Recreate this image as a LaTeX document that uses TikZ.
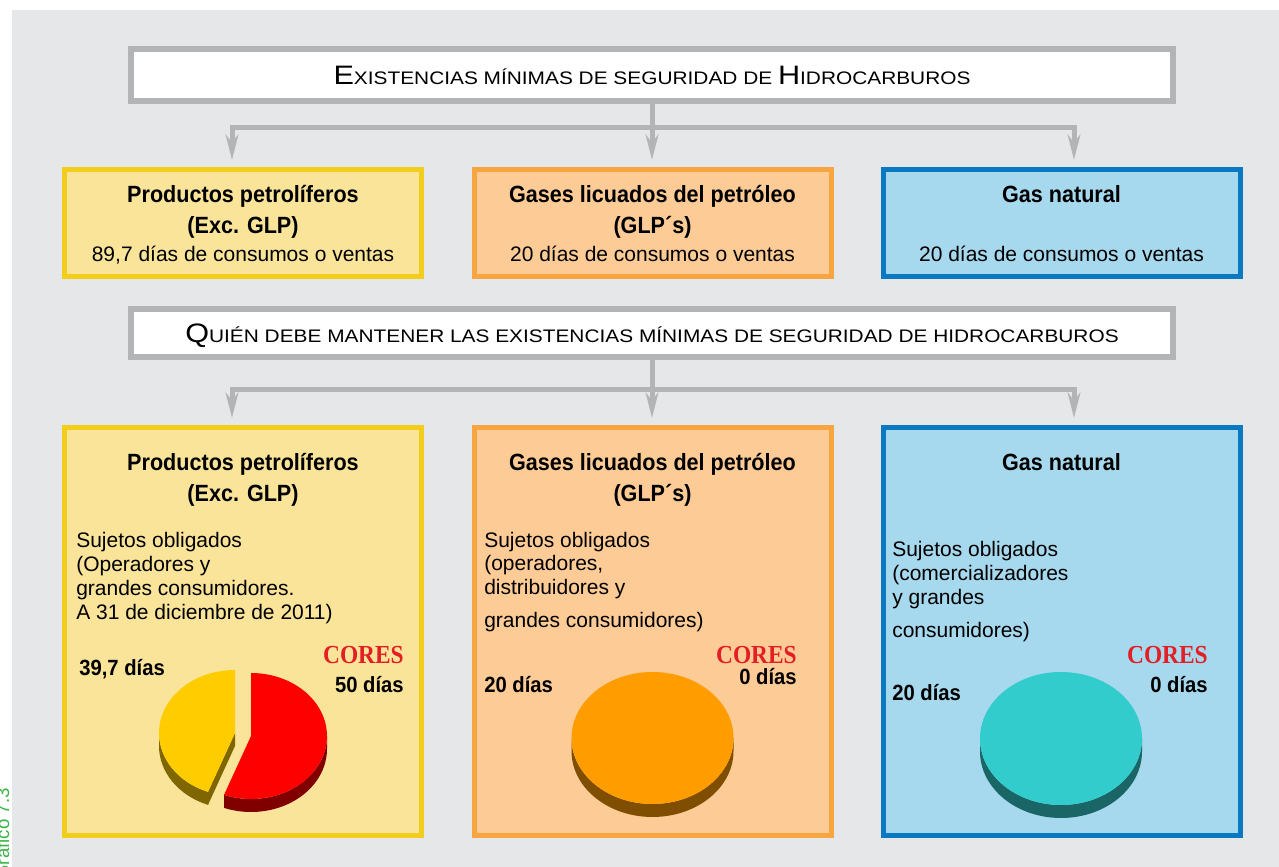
\documentclass[tikz,border=0pt]{standalone}
\usepackage{fontspec}
\setmainfont{Liberation Sans}
\newfontfamily\bcond{Liberation Sans}[FakeStretch=0.92]
\newfontfamily\wide{Liberation Sans}[FakeStretch=1.15]
\newfontfamily\coresf{Liberation Serif}[FakeStretch=0.9]
\usetikzlibrary{arrows.meta}
\definecolor{bg}{HTML}{E6E7E8}
\definecolor{tgray}{HTML}{B3B4B6}
\definecolor{agray}{HTML}{B3B4B6}
\definecolor{yfill}{HTML}{F9E499}
\definecolor{ybord}{HTML}{F2CD1B}
\definecolor{ofill}{HTML}{FDCB95}
\definecolor{obord}{HTML}{F7A540}
\definecolor{bfill}{HTML}{A6D9EE}
\definecolor{bbord}{HTML}{0B79C2}
\definecolor{ytop}{HTML}{FFCC00}
\definecolor{yside}{HTML}{806600}
\definecolor{rtop}{HTML}{FF0000}
\definecolor{rside}{HTML}{800000}
\definecolor{otop}{HTML}{FF9C00}
\definecolor{oside}{HTML}{7F4E00}
\definecolor{ctop}{HTML}{33CCCC}
\definecolor{cside}{HTML}{1A6666}
\definecolor{coresred}{HTML}{E31E24}
\definecolor{grn}{HTML}{3DB54A}
\newcommand\bigc[1]{{\fontsize{20}{22}\selectfont #1}}
\newcommand\smc[1]{{\fontsize{13.6}{15}\selectfont #1}}
\tikzset{
  titlebox/.style={draw=tgray, line width=4.5pt, fill=white, minimum width=1042*0.75pt, inner sep=0pt, outer sep=2.25pt},
  cbox/.style={line width=3.75pt, minimum width=357*0.75pt, inner sep=0pt, outer sep=1.875pt},
  ybox/.style={cbox, draw=ybord, fill=yfill},
  obox/.style={cbox, draw=obord, fill=ofill},
  bbox/.style={cbox, draw=bbord, fill=bfill},
  conn/.style={draw=agray, line width=3.75pt},
  arr/.style={conn, -{Stealth[length=19pt,width=9.5pt,inset=6pt]}, shorten >=5.25pt},
  bt/.style={font=\bcond\bfseries\fontsize{17.6}{20}\selectfont, inner sep=0pt, anchor=base},
  rt/.style={font=\fontsize{15.75}{18}\selectfont, inner sep=0pt, anchor=base},
  lt/.style={font=\fontsize{15.75}{18}\selectfont, inner sep=0pt, anchor=base west},
  bd/.style={font=\bcond\bfseries\fontsize{16.5}{18}\selectfont, inner sep=0pt},
  cores/.style={font=\coresf\bfseries\fontsize{19.5}{20}\selectfont, text=coresred, inner sep=0pt, anchor=base east},
  ttxt/.style={font=\wide, inner sep=0pt, anchor=base},
}
\begin{document}
\begin{tikzpicture}[x=0.75pt,y=0.75pt]
\useasboundingbox (0,0) rectangle (1279,867);
\begin{scope}
\clip (0,0) rectangle (1279,867);
\fill[white] (0,0) rectangle (1279,867);
\fill[bg] (12,0) rectangle (1279,857);
\node[rotate=90, anchor=base east, text=grn, font=\fontsize{14}{15}\selectfont, inner sep=0pt] (gr) at (9,79) {Gráfico 7.3};
\end{scope}

% titles
\node[titlebox, minimum height=52*0.75pt] (t1) at (652,792) {};
\node[ttxt] (t1x) at (652,782) {\bigc{E}\smc{XISTENCIAS MÍNIMAS DE SEGURIDAD DE }\bigc{H}\smc{IDROCARBUROS}};
\node[titlebox, minimum height=48*0.75pt] (t2) at (652,534) {};
\node[ttxt] (t2x) at (652,524) {\bigc{Q}\smc{UIÉN DEBE MANTENER LAS EXISTENCIAS MÍNIMAS DE SEGURIDAD DE HIDROCARBUROS}};

% row 1 boxes
\node[ybox, minimum height=107*0.75pt] (a1) at (243,644) {};
\node[obox, minimum height=107*0.75pt] (a2) at (652.5,644) {};
\node[bbox, minimum height=107*0.75pt] (a3) at (1061.5,644) {};
% row 2 boxes
\node[ybox, minimum height=408*0.75pt] (b1) at (243,235.5) {};
\node[obox, minimum height=408*0.75pt] (b2) at (652.5,235.5) {};
\node[bbox, minimum height=408*0.75pt] (b3) at (1061.5,235.5) {};

% connectors row 1
\coordinate (j1) at (652,739);
\coordinate (j1l) at (232,739);
\coordinate (j1r) at (1074,739);
\draw[conn] (t1.south) -- (j1);
\draw[arr] (j1) -- (j1l) -- (j1l |- a1.north);
\draw[arr] (j1) -- (j1r) -- (j1r |- a3.north);
\draw[arr] (j1) -- (j1 |- a2.north);
% connectors row 2
\coordinate (j2) at (652,477);
\coordinate (j2l) at (232,477);
\coordinate (j2r) at (1074,477);
\draw[conn] (t2.south) -- (j2);
\draw[arr] (j2) -- (j2l) -- (j2l |- b1.north);
\draw[arr] (j2) -- (j2r) -- (j2r |- b3.north);
\draw[arr] (j2) -- (j2 |- b2.north);

% row 1 texts
\node[bt] (a1t1) at (243,664) {Productos petrolíferos};
\node[bt] (a1t2) at (243,633) {(Exc. GLP)};
\node[rt] (a1t3) at (243,605) {89,7 días de consumos o ventas};
\node[bt] (a2t1) at (652.5,664) {Gases licuados del petróleo};
\node[bt] (a2t2) at (652.5,633) {(GLP´s)};
\node[rt] (a2t3) at (652.5,605) {20 días de consumos o ventas};
\node[bt] (a3t1) at (1061.5,664) {Gas natural};
\node[rt] (a3t3) at (1061.5,605) {20 días de consumos o ventas};

% row 2 texts
\node[bt] (b1t1) at (243,396) {Productos petrolíferos};
\node[bt] (b1t2) at (243,365) {(Exc. GLP)};
\node[lt] (b1l1) at (76,319) {Sujetos obligados};
\node[lt] (b1l2) at (76,295) {(Operadores y};
\node[lt] (b1l3) at (76,271) {grandes consumidores.};
\node[lt] (b1l4) at (76,247) {A 31 de diciembre de 2011)};

\node[bt] (b2t1) at (652.5,396) {Gases licuados del petróleo};
\node[bt] (b2t2) at (652.5,365) {(GLP´s)};
\node[lt] (b2l1) at (484,319) {Sujetos obligados};
\node[lt] (b2l2) at (484,296) {(operadores,};
\node[lt] (b2l3) at (484,272) {distribuidores y};
\node[lt] (b2l4) at (484,239) {grandes consumidores)};

\node[bt] (b3t1) at (1061.5,396) {Gas natural};
\node[lt] (b3l1) at (892,310) {Sujetos obligados};
\node[lt] (b3l2) at (892,286) {(comercializadores};
\node[lt] (b3l3) at (892,262) {y grandes};
\node[lt] (b3l4) at (892,229) {consumidores)};

% pie labels
\node[bd, anchor=base west] (p1a) at (79,191) {39,7 días};
\node[cores] (p1c) at (404,203) {CORES};
\node[bd, anchor=base east] (p1b) at (404,174) {50 días};
\node[bd, anchor=base west] (p2a) at (484,174) {20 días};
\node[cores] (p2c) at (797,203) {CORES};
\node[bd, anchor=base east] (p2b) at (797,182) {0 días};
\node[bd, anchor=base west] (p3a) at (892,166) {20 días};
\node[cores] (p3c) at (1208,203) {CORES};
\node[bd, anchor=base east] (p3b) at (1208,174) {0 días};

% pie 1: yellow slice
\begin{scope}[shift={(235,134)}]
  \fill[yside] (180:76 and 63) arc[start angle=180,end angle=249.2,x radius=76,y radius=63] -- ++(0,-13) arc[start angle=249.2,end angle=180,x radius=76,y radius=63] -- cycle;
  \fill[yside] (0,0) -- (249.2:76 and 63) -- ++(0,-13) -- (0,-13) -- cycle;
  \fill[ytop] (0,0) -- (90:76 and 63) arc[start angle=90,end angle=249.2,x radius=76,y radius=63] -- cycle;
\end{scope}
% pie 1: red slice
\begin{scope}[shift={(251,131)}]
  \fill[rside] (-110.8:76 and 63) arc[start angle=-110.8,end angle=0,x radius=76,y radius=63] -- ++(0,-13) arc[start angle=0,end angle=-110.8,x radius=76,y radius=63] -- cycle;
  \fill[rtop] (0,0) -- (-110.8:76 and 63) arc[start angle=-110.8,end angle=90,x radius=76,y radius=63] -- cycle;
\end{scope}
% pie 2
\begin{scope}[shift={(652.5,129)}]
  \fill[oside] (180:81 and 66) arc[start angle=180,end angle=360,x radius=81,y radius=66] -- ++(0,-13) arc[start angle=360,end angle=180,x radius=81,y radius=66] -- cycle;
  \fill[otop] (0,0) ellipse[x radius=81,y radius=66];
\end{scope}
% pie 3
\begin{scope}[shift={(1061,128.5)}]
  \fill[cside] (180:81 and 66.5) arc[start angle=180,end angle=360,x radius=81,y radius=66.5] -- ++(0,-13) arc[start angle=360,end angle=180,x radius=81,y radius=66.5] -- cycle;
  \fill[ctop] (0,0) ellipse[x radius=81,y radius=66.5];
\end{scope}
\end{tikzpicture}
\end{document}
